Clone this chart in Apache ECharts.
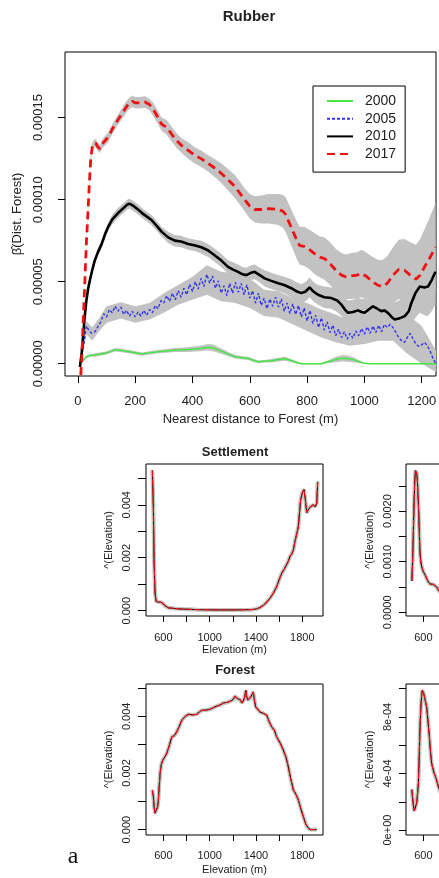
<!DOCTYPE html>
<html>
<head>
<meta charset="utf-8">
<script src="https://cdn.jsdelivr.net/npm/echarts@6.0.0/dist/echarts.min.js"></script>
<style>
html, body { margin: 0; padding: 0; background: #fff; }
#chart { width: 439px; height: 878px; }
</style>
</head>
<body>
<div id="chart"></div>
<script>
// Rubber panel: nearest distance to forest (m), beta in units of 1e-5
const dist2000 = [10,15,20,30,45,59,75,94,110,129, 150,164,190,222,250,280,310,338,370,397,
  425,455,475,489,510,530,548,575,594,610, 629,650,675,700,722,740,757,770,780,850,
  870,885,905,925,945,966,985,1000,1020,1250];
const beta2000 = [0.0,0.15,0.25,0.43,0.5,0.53,0.58,0.63,0.72,0.84, 0.82,0.77,0.7,0.59,0.66,0.73,0.78,0.84,0.85,0.88,
  0.93,1.0,0.95,0.84,0.7,0.55,0.43,0.36,0.33,0.22, 0.12,0.15,0.18,0.25,0.3,0.22,0.12,0.04,0.0,0.0,
  0.1,0.18,0.28,0.33,0.3,0.22,0.1,0.02,0.0,0.0];
const ci2000 = [0.03,0.05,0.06,0.08,0.08,0.1,0.1,0.1,0.1,0.1, 0.1,0.1,0.1,0.1,0.1,0.1,0.12,0.12,0.13,0.15,
  0.17,0.2,0.2,0.18,0.15,0.12,0.12,0.1,0.1,0.1, 0.08,0.08,0.1,0.12,0.12,0.1,0.08,0.05,0.03,0.03,
  0.08,0.12,0.18,0.2,0.18,0.15,0.08,0.03,0.02,0.02];

const dist2005 = [8,13,18,22,26,30,36,42,48,53,60,71,80,
  90,100,110,120,130,140,150,160,170,180,190,200,210,220,230,240,250,260,270,280,290,300,
  310,320,330,340,350,360,370,380,390,400,410,420,430,440,450,460,470,480,490,500,
  510,520,530,540,550,560,570,580,590,600,610,620,630,640,650,660,670,680,690,700,
  710,720,730,740,750,760,770,780,790,800,810,820,830,840,850,860,870,880,890,900,
  910,920,930,940,950,960,970,980,990,1000,1010,1020,1030,1040,1050,1060,1070,1080,1090,1100,
  1110,1120,1130,1140,1150,1160,1170,1180,1190,1200,1210,1220,1230,1240,1248];
const beta2005 = [0.0,0.45,1.0,1.3,1.9,2.3,2.1,2.0,1.85,1.75,1.95,2.3,2.55,
  3.05,2.85,3.3,3.1,3.5,3.2,3.45,3.0,3.25,2.9,3.2,2.85,3.15,2.9,3.25,2.95,3.3,3.1,3.55,3.35,3.85,3.7,
  4.15,3.8,4.3,3.9,4.45,4.05,4.6,4.2,4.85,4.4,5.0,4.55,5.2,4.7,5.45,4.9,5.35,4.6,5.05,4.3,
  4.75,4.15,4.9,4.3,4.95,4.35,4.9,4.2,4.8,4.0,4.45,3.7,4.3,3.55,4.0,3.35,3.95,3.5,4.05,3.45,
  3.95,3.2,3.7,3.05,3.65,3.0,3.55,2.85,3.4,2.6,3.25,2.45,2.95,2.2,2.8,2.05,2.55,1.9,2.35,1.7,
  2.1,1.6,1.95,1.5,1.85,1.55,2.0,1.7,2.15,1.8,2.25,1.85,2.3,1.9,2.35,1.95,2.4,2.2,2.4,2.2,
  1.9,1.6,1.4,1.3,1.6,1.85,1.5,1.2,1.05,1.15,1.3,1.1,0.75,0.3,0.05];
const band2005Dist = [10,20,30,50,75,100,150,200,250,300,350,400,450,500,550,600,650,700,750,800,850,900,950,1000,1050,1100,1150,1200,1250];
const band2005Lo = [-0.1,0.8,1.8,1.4,2.0,2.5,2.75,2.5,2.7,3.1,3.6,3.9,4.2,3.8,3.7,3.4,2.9,2.8,2.4,2.0,1.6,1.3,1.1,1.2,1.4,1.4,0.6,0.0,-0.5];
const band2005Hi = [0.5,1.6,2.6,2.2,2.8,3.5,3.75,3.5,3.7,4.3,4.8,5.3,6.0,5.6,5.5,5.2,4.5,4.4,4.0,3.7,3.3,3.0,2.6,2.9,3.0,3.0,3.0,2.3,0.8];

const dist2010 = [7,10,13,18,24,30,36,42,50,59, 70,83,95,106,120,141,160,172,181,195,
  210,230,257,275,292,315,338,360,385,410, 431,455,478,500,524,540,559,575,588,605,
  617,635,652,675,699,720,745,765,780,795, 809,822,838,860,885,905,920,932,943,960,
  978,990,1001,1015,1030,1045,1059,1070,1082,1095, 1106,1120,1141,1155,1164,1178,1193,1210,1222,1235, 1248];
const beta2010 = [-0.2,0.2,0.6,1.65,2.9,3.9,4.6,5.1,5.7,6.3, 6.8,7.3,7.9,8.35,8.8,9.2,9.5,9.7,9.75,9.6,
  9.4,9.1,8.76,8.4,8.05,7.7,7.5,7.45,7.3,7.2, 7.1,6.9,6.6,6.3,5.9,5.75,5.6,5.45,5.4,5.55,
  5.6,5.4,5.2,5.05,4.9,4.8,4.6,4.4,4.3,4.4, 4.65,4.4,4.2,4.05,4.0,3.85,3.6,3.3,3.1,3.15,
  3.25,3.15,3.1,3.3,3.5,3.35,3.2,3.25,3.1,2.85, 2.7,2.75,2.9,3.2,3.7,4.3,4.7,4.65,4.7,5.1, 5.6];
const ci2010 = [0.1,0.15,0.15,0.2,0.2,0.2,0.2,0.2,0.2,0.2, 0.25,0.25,0.25,0.25,0.3,0.3,0.3,0.3,0.3,0.3,
  0.3,0.3,0.3,0.3,0.3,0.35,0.35,0.35,0.35,0.35, 0.4,0.4,0.4,0.4,0.4,0.45,0.45,0.45,0.45,0.45,
  0.45,0.45,0.5,0.5,0.5,0.5,0.55,0.55,0.55,0.6, 0.6,0.6,0.6,0.65,0.65,0.7,0.7,0.7,0.75,0.75,
  0.8,0.8,0.85,0.85,0.9,0.9,0.95,0.95,1.0,1.0, 1.05,1.1,1.2,1.3,1.4,1.5,1.6,1.7,1.8,1.9, 2.0];

const dist2017 = [10,14,18,22,26,30,35,40,45,50, 55,62,70,77,85,95,106,120,141,160,
  175,190,200,215,234,250,263,280,292,310, 327,345,362,385,408,430,455,480,501,525,
  548,565,582,600,617,640,665,699,715,725, 740,751,765,774,790,805,827,845,862,880,
  900,920,935,955,975,990,1005,1025,1045,1062, 1080,1100,1120,1140,1160,1180,1195,1210,1230,1248];
const beta2017 = [-0.7,0.5,2.4,4.0,5.8,7.5,9.2,11.0,12.5,13.2, 13.4,13.45,13.2,13.1,13.4,13.6,13.8,14.3,14.9,15.4,
  15.8,16.0,15.9,15.9,15.95,15.8,15.5,15.0,14.6,14.4, 14.0,13.6,13.3,13.0,12.7,12.5,12.2,11.9,11.6,11.2,
  10.8,10.4,10.0,9.6,9.4,9.4,9.45,9.4,9.3,9.1, 8.5,8.05,7.5,7.2,7.15,7.0,6.7,6.5,6.4,6.1,
  5.7,5.4,5.3,5.35,5.4,5.5,5.35,5.05,4.8,4.7, 4.9,5.4,5.75,5.7,5.4,5.15,5.4,5.9,6.5,7.1];
const ci2017 = [0.03,0.1,0.15,0.2,0.2,0.2,0.2,0.2,0.2,0.25, 0.25,0.25,0.25,0.25,0.25,0.3,0.3,0.3,0.3,0.35,
  0.35,0.35,0.35,0.35,0.35,0.35,0.4,0.4,0.4,0.45, 0.45,0.45,0.45,0.5,0.5,0.5,0.5,0.55,0.6,0.65,
  0.7,0.7,0.7,0.75,0.8,0.85,0.9,0.95,1.0,1.05, 1.1,1.1,1.15,1.15,1.2,1.2,1.25,1.25,1.3,1.3,
  1.3,1.35,1.35,1.4,1.4,1.45,1.45,1.5,1.55,1.6, 1.65,1.7,1.8,1.9,2.0,2.1,2.2,2.3,2.5,2.7];

const distTicks = [0, 200, 400, 600, 800, 1000, 1200];
const betaTicks = [0, 5, 10, 15];
const years = ['2000', '2005', '2010', '2017'];

// Elevation panels
const elevSettle = [505,510,514,520,528,538,548,560,572,585, 600,620,643,700,773,900,1061,1200,1349,1380,
  1406,1435,1463,1490,1521,1550,1579,1600,1622,1645, 1666,1680,1694,1710,1723,1737,1752,1766,1776,1786,
  1800,1815,1826,1838,1850,1865,1881,1895,1910,1925, 1933];
const lamSettle = [0.0053,0.0045,0.0038,0.0019,0.00066,0.00035,0.0003,0.00033,0.00034,0.00031,
  0.00025,0.00017,0.00011,0.00008,0.00006,0.00004,0.00003,0.00003,0.00004,0.00005,
  0.00007,0.00012,0.0002,0.00031,0.00047,0.00066,0.00091,0.00117,0.00141,0.00158,
  0.00175,0.00188,0.00205,0.00215,0.0023,0.00262,0.00255,0.00317,0.0037,0.0042,
  0.00445,0.00458,0.0042,0.0037,0.0038,0.0039,0.00385,0.004,0.00392,0.00405, 0.00487];

const elevForest = [505,510,514,520,528,535,543,550,557,565, 572,582,595,610,629,650,673,695,716,738,
  759,790,816,850,888,910,932,970,1003,1030, 1061,1090,1118,1150,1176,1200,1219,1240,1262,1280,
  1291,1302,1312,1320,1329,1342,1355,1366,1377,1387, 1398,1415,1435,1465,1493,1515,1536,1560,1579,1610,
  1636,1660,1679,1700,1723,1745,1766,1790,1809,1830, 1852,1870,1890,1925];
const lamForest = [0.0014,0.00125,0.00116,0.0008,0.00058,0.00058,0.00063,0.0008,0.00105,0.0016,
  0.00199,0.0023,0.00245,0.00255,0.00269,0.00295,0.00327,0.00332,0.00345,0.00365,
  0.00386,0.004,0.00407,0.00405,0.00407,0.00415,0.00421,0.00422,0.00425,0.0043,
  0.00436,0.0044,0.00447,0.00449,0.00453,0.00458,0.00471,0.00462,0.00459,0.00447,
  0.00451,0.00465,0.00492,0.0047,0.00457,0.00462,0.00468,0.00472,0.00486,0.00455,
  0.00433,0.00425,0.00415,0.0041,0.00404,0.0038,0.00363,0.0035,0.00327,0.00305,
  0.00281,0.00255,0.00222,0.0018,0.0014,0.00125,0.00105,0.0007,0.00046,0.0002,
  0.00005,0.0,0.0,0.0];

const elevTopRight = [500,507,514,520,526,531,536,542,548,554, 560,566,571,578,586,600,615,630,643,658,
  672,686,701,715,730,760,800];
const lamTopRight = [0.00062,0.001,0.00163,0.0022,0.00261,0.0028,0.00282,0.00275,0.00261,0.0023,
  0.00196,0.0015,0.00117,0.001,0.0009,0.0008,0.00074,0.00066,0.0006,0.00056,
  0.00054,0.00055,0.00054,0.0005,0.00044,0.00035,0.00025];

const elevBotRight = [500,507,514,521,528,535,542,550,557,564, 571,578,585,591,598,605,615,629,640,652,
  662,672,690,710,730,760,800];
const lamBotRight = [2.87e-4,2.3e-4,1.75e-4,1.35e-4,1.25e-4,1.4e-4,1.9e-4,2.6e-4,3.3e-4,5.2e-4,
  7.3e-4,8.6e-4,9.5e-4,9.88e-4,9.8e-4,9.6e-4,9.2e-4,8.7e-4,7.7e-4,6.6e-4,
  5.5e-4,4.7e-4,4.1e-4,3.65e-4,3.06e-4,2.4e-4,1.8e-4];

const elevTicks = [600, 800, 1000, 1200, 1400, 1600, 1800];
const elevLabels = [600, 1000, 1400, 1800];
const lamTicks = [0, 0.001, 0.002, 0.003, 0.004, 0.005];
const lamLabels = [0, 0.002, 0.004];
const lamTicksTR = [0, 0.0005, 0.001, 0.0015, 0.002, 0.0025];
const lamLabelsTR = [0, 0.001, 0.002];
const lamTicksBR = [0, 0.0002, 0.0004, 0.0006, 0.0008, 0.001];
const lamLabelsBR = [0, 0.0004, 0.0008];

const FONT = '"Liberation Sans", Arial, sans-serif';
const INK = '#222';
const GREY = '#c2c2c2';

function pairs(xs, ys) { return xs.map((x, i) => [x, ys[i]]); }

function rExp(v) {
    if (v === 0) return '0e+00';
    const parts = v.toExponential(0).split('e');
    const e = Number(parts[1]);
    return parts[0] + 'e' + (e < 0 ? '-' : '+') + (Math.abs(e) < 10 ? '0' : '') + Math.abs(e);
}

function band(xs, lo, hi, gi) {
    return {
        type: 'custom', xAxisIndex: gi, yAxisIndex: gi, clip: true, silent: true, z: 1,
        animation: false,
        data: [[xs[0], lo[0]]],
        renderItem: function (params, api) {
            const pts = [];
            for (let i = 0; i < xs.length; i++) pts.push(api.coord([xs[i], hi[i]]));
            for (let i = xs.length - 1; i >= 0; i--) pts.push(api.coord([xs[i], lo[i]]));
            return { type: 'polygon', shape: { points: pts }, style: { fill: GREY } };
        }
    };
}

function line(name, xs, ys, gi, color, width, dash, z) {
    return {
        type: 'line', name: name, xAxisIndex: gi, yAxisIndex: gi,
        data: pairs(xs, ys), symbol: 'none', showSymbol: false, clip: true,
        animation: false, silent: true, z: z || 3,
        lineStyle: { color: color, width: width, type: dash || 'solid' },
        itemStyle: { color: color }
    };
}

function xAx(gi, min, max, ticks, labels, o) {
    return {
        type: 'value', gridIndex: gi, min: min, max: max,
        splitLine: { show: false },
        axisLine: { show: false, onZero: false },
        axisTick: { show: true, length: o.tick, lineStyle: { color: '#000' }, customValues: ticks },
        axisLabel: { customValues: labels, margin: o.margin, fontSize: o.fs, color: INK, fontFamily: FONT,
            formatter: v => String(v) },
        name: o.name, nameLocation: 'middle', nameGap: o.nameGap,
        nameTextStyle: { fontSize: o.fs, color: INK, fontFamily: FONT }
    };
}

function yAx(gi, min, max, ticks, labels, o) {
    return {
        type: 'value', gridIndex: gi, min: min, max: max,
        splitLine: { show: false },
        axisLine: { show: false, onZero: false },
        axisTick: { show: true, length: o.tick, lineStyle: { color: '#000' }, customValues: ticks },
        axisLabel: { customValues: labels, margin: o.margin, fontSize: o.fs, color: INK, fontFamily: FONT,
            rotate: 90, formatter: o.fmt },
        name: o.name, nameLocation: 'middle', nameGap: o.nameGap, nameRotate: 90,
        nameTextStyle: { fontSize: o.fs, color: INK, fontFamily: FONT }
    };
}

function box(left, top, width, height) {
    return { left: left, top: top, width: width, height: height, show: true,
        borderColor: '#000', borderWidth: 1, backgroundColor: 'transparent',
        outerBoundsMode: 'none', containLabel: false };
}

const lo = (ys, ci) => ys.map((v, i) => v - ci[i]);
const hi = (ys, ci) => ys.map((v, i) => v + ci[i]);

const elevOpt = { tick: 6, margin: 16, fs: 11, name: 'Elevation (m)', nameGap: 28 };

// elevation curves: grey halo, black line, red dashes on top
function elevLines(xs, ys, gi) {
    return [
        line('', xs, ys, gi, GREY, 4, null, 2),
        line('', xs, ys, gi, '#000000', 1),
        line('', xs, ys, gi, '#ee1111', 1.2, [7, 2], 4)
    ];
}

const option = {
    animation: false,
    textStyle: { fontFamily: FONT },
    grid: [
        box(65, 52, 371, 324),
        box(146, 464, 177, 152),
        box(406, 464, 177, 152),
        box(146, 684, 177, 151),
        box(406, 684, 177, 151)
    ],
    xAxis: [
        xAx(0, -45, 1250, distTicks, distTicks, { tick: 7, margin: 19, fs: 13, name: 'Nearest distance to Forest (m)', nameGap: 37 }),
        xAx(1, 450, 1979, elevTicks, elevLabels, elevOpt),
        xAx(2, 450, 1979, elevTicks, elevLabels, elevOpt),
        xAx(3, 450, 1979, elevTicks, elevLabels, Object.assign({}, elevOpt, { margin: 15.5, nameGap: 29 })),
        xAx(4, 450, 1979, elevTicks, elevLabels, Object.assign({}, elevOpt, { margin: 15.5, nameGap: 29 }))
    ],
    yAxis: [
        yAx(0, -0.75, 19.0, betaTicks, betaTicks, { tick: 7, margin: 20, fs: 13, name: '\u03B2\u0302(Dist. Forest)', nameGap: 40,
            fmt: v => (v * 1e-5).toFixed(5) }),
        yAx(1, -0.0002, 0.00554, lamTicks, lamLabels, { tick: 8, margin: 14, fs: 11, name: '^(Elevation)', nameGap: 32,
            fmt: v => v.toFixed(3) }),
        yAx(2, -0.000073, 0.00293, lamTicksTR, lamLabelsTR, { tick: 7, margin: 13, fs: 11, name: '^(Elevation)', nameGap: 31,
            fmt: v => v.toFixed(4) }),
        yAx(3, -0.00019, 0.00514, lamTicks, lamLabels, { tick: 8, margin: 14, fs: 11, name: '^(Elevation)', nameGap: 32,
            fmt: v => v.toFixed(3) }),
        yAx(4, -0.000035, 0.001033, lamTicksBR, lamLabelsBR, { tick: 7, margin: 13, fs: 11, name: '^(Elevation)', nameGap: 31,
            fmt: rExp })
    ],
    legend: {
        data: years, orient: 'vertical', left: 313, top: 86,
        itemWidth: 26, itemHeight: 14, itemGap: 3.7,
        padding: [8, 9, 11, 13],
        borderColor: '#000', borderWidth: 1, borderRadius: 0, backgroundColor: '#fff',
        selectedMode: false,
        itemStyle: { opacity: 0 },
        textStyle: { fontSize: 14, color: INK, fontFamily: FONT, padding: [0, 0, 0, 7] }
    },
    graphic: [
        { type: 'text', x: 249, y: 17, style: { text: 'Rubber', font: 'bold 15px "Liberation Sans"', fill: INK, align: 'center', verticalAlign: 'middle' } },
        { type: 'text', x: 235, y: 452, style: { text: 'Settlement', font: 'bold 13px "Liberation Sans"', fill: INK, align: 'center', verticalAlign: 'middle' } },
        { type: 'text', x: 235, y: 670, style: { text: 'Forest', font: 'bold 13px "Liberation Sans"', fill: INK, align: 'center', verticalAlign: 'middle' } },
        { type: 'text', x: 73, y: 857, style: { text: 'a', font: '24px "Liberation Serif"', fill: '#111', align: 'center', verticalAlign: 'middle' } }
    ],
    series: [
        band(dist2000, lo(beta2000, ci2000), hi(beta2000, ci2000), 0),
        band(band2005Dist, band2005Lo, band2005Hi, 0),
        band(dist2010, lo(beta2010, ci2010), hi(beta2010, ci2010), 0),
        band(dist2017, lo(beta2017, ci2017), hi(beta2017, ci2017), 0),
        line('2000', dist2000, beta2000, 0, '#44e644', 1.5),
        line('2005', dist2005, beta2005, 0, '#3434ee', 1.4, [3, 2]),
        line('2010', dist2010, beta2010, 0, '#000000', 2.6),
        line('2017', dist2017, beta2017, 0, '#ee1111', 2.8, [8, 5])
    ].concat(
        elevLines(elevSettle, lamSettle, 1),
        elevLines(elevTopRight, lamTopRight, 2),
        elevLines(elevForest, lamForest, 3),
        elevLines(elevBotRight, lamBotRight, 4)
    )
};

const chart = echarts.init(document.getElementById('chart'), null, { renderer: 'canvas' });
chart.setOption(option);
</script>
</body>
</html>
